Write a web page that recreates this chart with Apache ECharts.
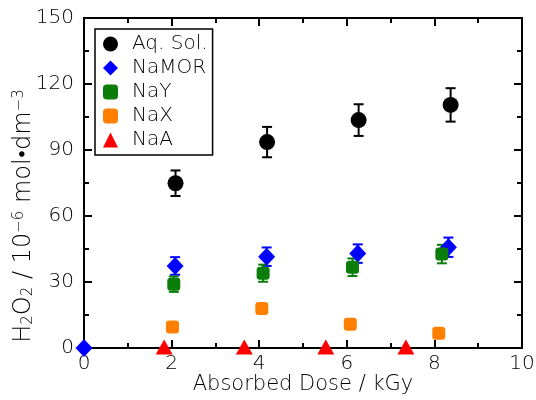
<!DOCTYPE html>
<html>
<head>
<meta charset="UTF-8">
<script src="https://cdn.jsdelivr.net/npm/echarts@6/dist/echarts.min.js"></script>
<style>html,body{margin:0;padding:0;background:#fff}#chart{width:536px;height:400px}</style>
</head>
<body>
<div id="chart"></div>
<script>
// absorbed dose (kGy) and H2O2 (10^-6 mol dm^-3)
var doseAq = [2.09, 4.18, 6.27, 8.37];
var valAq = [74.9, 93.6, 103.6, 110.5];
var errAq = [5.8, 6.9, 7.2, 7.6];

var doseMor = [0, 2.08, 4.17, 6.25, 8.32];
var valMor = [0, 37.3, 41.5, 42.9, 45.8];
var errMor = [0, 4.0, 4.2, 4.2, 4.4];

var doseY = [2.05, 4.09, 6.13, 8.17];
var valY = [29.0, 34.0, 36.7, 42.7];
var errY = [3.5, 3.9, 4.0, 4.2];

var doseX = [2.02, 4.06, 6.08, 8.10];
var valX = [9.5, 18.0, 10.8, 6.7];
var errX = [1.0, 1.8, 1.0, 0.8];

var doseA = [1.83, 3.66, 5.52, 7.35];
var valA = [0.5, 0.5, 0.5, 0.5];

var names = ['Aq. Sol.', 'NaMOR', 'NaY', 'NaX', 'NaA'];
var colors = ['#000000', '#0000ff', '#0a7d0a', '#ff8000', '#ff0000'];

var font = 'DejaVu Sans';
var weight = 200;
var textColor = '#000';

function pts(xs, ys) {
    var res = [];
    for (var i = 0; i < xs.length; i++) res.push([xs[i], ys[i]]);
    return res;
}
function errs(xs, ys, es) {
    var res = [];
    for (var i = 0; i < xs.length; i++) {
        if (es[i] > 0) res.push([xs[i], ys[i] - es[i], ys[i] + es[i]]);
    }
    return res;
}

function errorSeries(data, color) {
    return {
        type: 'custom',
        data: data,
        z: 1,
        silent: true,
        renderItem: function (params, api) {
            var x = api.value(0);
            var lo = api.coord([x, api.value(1)]);
            var hi = api.coord([x, api.value(2)]);
            var w = 5;
            var style = { stroke: color, lineWidth: 2 };
            return {
                type: 'group',
                children: [
                    { type: 'line', shape: { x1: lo[0], y1: lo[1], x2: hi[0], y2: hi[1] }, style: style },
                    { type: 'line', shape: { x1: lo[0] - w, y1: lo[1], x2: lo[0] + w, y2: lo[1] }, style: style },
                    { type: 'line', shape: { x1: hi[0] - w, y1: hi[1], x2: hi[0] + w, y2: hi[1] }, style: style }
                ]
            };
        }
    };
}

var axisLine = { show: true, onZero: false, lineStyle: { color: '#000', width: 2 } };
var tick = { show: true, inside: true, length: 8, lineStyle: { color: '#000', width: 2 } };
var minor = { show: true, splitNumber: 2, length: 5, lineStyle: { color: '#000', width: 2 } };
var labelStyle = { fontFamily: font, fontWeight: weight, fontSize: 20, color: textColor };

var chart = echarts.init(document.getElementById('chart'));
chart.setOption({
    animation: false,
    backgroundColor: '#fff',
    grid: { left: 84, right: 14, top: 18, bottom: 52, outerBoundsMode: 'none', containLabel: false },
    legend: {
        data: names,
        orient: 'vertical',
        left: 95,
        top: 29,
        padding: [5, 5, 5, 8],
        itemGap: 4,
        itemWidth: 15,
        itemHeight: 15,
        borderColor: '#000',
        borderWidth: 1.5,
        textStyle: { fontFamily: font, fontWeight: weight, fontSize: 20, color: textColor, padding: [0, 0, 0, 9] }
    },
    xAxis: [{
        type: 'value', min: 0, max: 10, interval: 2, position: 'bottom',
        name: 'Absorbed Dose / kGy', nameLocation: 'middle', nameGap: 26, nameMoveOverlap: false,
        nameTextStyle: { fontFamily: font, fontWeight: weight, fontSize: 21, color: textColor },
        axisLine: axisLine, axisTick: tick, minorTick: minor,
        splitLine: { show: false },
        axisLabel: Object.assign({ margin: 6 }, labelStyle)
    }, {
        type: 'value', min: 0, max: 10, interval: 2, position: 'top',
        axisLine: axisLine, axisTick: tick, minorTick: minor,
        splitLine: { show: false }, axisLabel: { show: false }
    }],
    yAxis: [{
        type: 'value', min: 0, max: 150, interval: 30, position: 'left',
        name: 'H{sub|2}O{sub|2} / 10{sup|−6} mol•dm{sup|−3}',
        nameLocation: 'middle', nameGap: 48, nameMoveOverlap: false,
        nameTextStyle: {
            fontFamily: font, fontWeight: weight, fontSize: 24, color: textColor,
            padding: [0, 66, 0, 0],
            rich: {
                sub: { fontFamily: font, fontWeight: weight, fontSize: 15, color: textColor, verticalAlign: 'bottom', padding: [9, 0, 0, 0] },
                sup: { fontFamily: font, fontWeight: weight, fontSize: 15, color: textColor, verticalAlign: 'top', padding: [0, 0, 9, 0] }
            }
        },
        axisLine: axisLine, axisTick: tick, minorTick: minor,
        splitLine: { show: false },
        axisLabel: Object.assign({ margin: 10 }, labelStyle)
    }, {
        type: 'value', min: 0, max: 150, interval: 30, position: 'right',
        axisLine: axisLine, axisTick: tick, minorTick: minor,
        splitLine: { show: false }, axisLabel: { show: false }
    }],
    series: [
        errorSeries(errs(doseAq, valAq, errAq), colors[0]),
        errorSeries(errs(doseMor, valMor, errMor), colors[1]),
        errorSeries(errs(doseY, valY, errY), colors[2]),
        errorSeries(errs(doseX, valX, errX), colors[3]),
        { name: names[0], type: 'scatter', symbol: 'circle', symbolSize: 16, z: 3,
          itemStyle: { color: colors[0], opacity: 1 }, data: pts(doseAq, valAq) },
        { name: names[1], type: 'scatter', symbol: 'diamond', symbolSize: [17, 18], z: 3,
          itemStyle: { color: colors[1], opacity: 1 }, data: pts(doseMor, valMor) },
        { name: names[2], type: 'scatter', symbol: 'roundRect', symbolSize: 13, z: 3,
          itemStyle: { color: colors[2], opacity: 1 }, data: pts(doseY, valY) },
        { name: names[3], type: 'scatter', symbol: 'roundRect', symbolSize: 13, z: 3,
          itemStyle: { color: colors[3], opacity: 1 }, data: pts(doseX, valX) },
        { name: names[4], type: 'scatter', symbol: 'triangle', symbolSize: [17, 15], z: 3,
          itemStyle: { color: colors[4], opacity: 1 }, data: pts(doseA, valA) }
    ]
});
</script>
</body>
</html>
